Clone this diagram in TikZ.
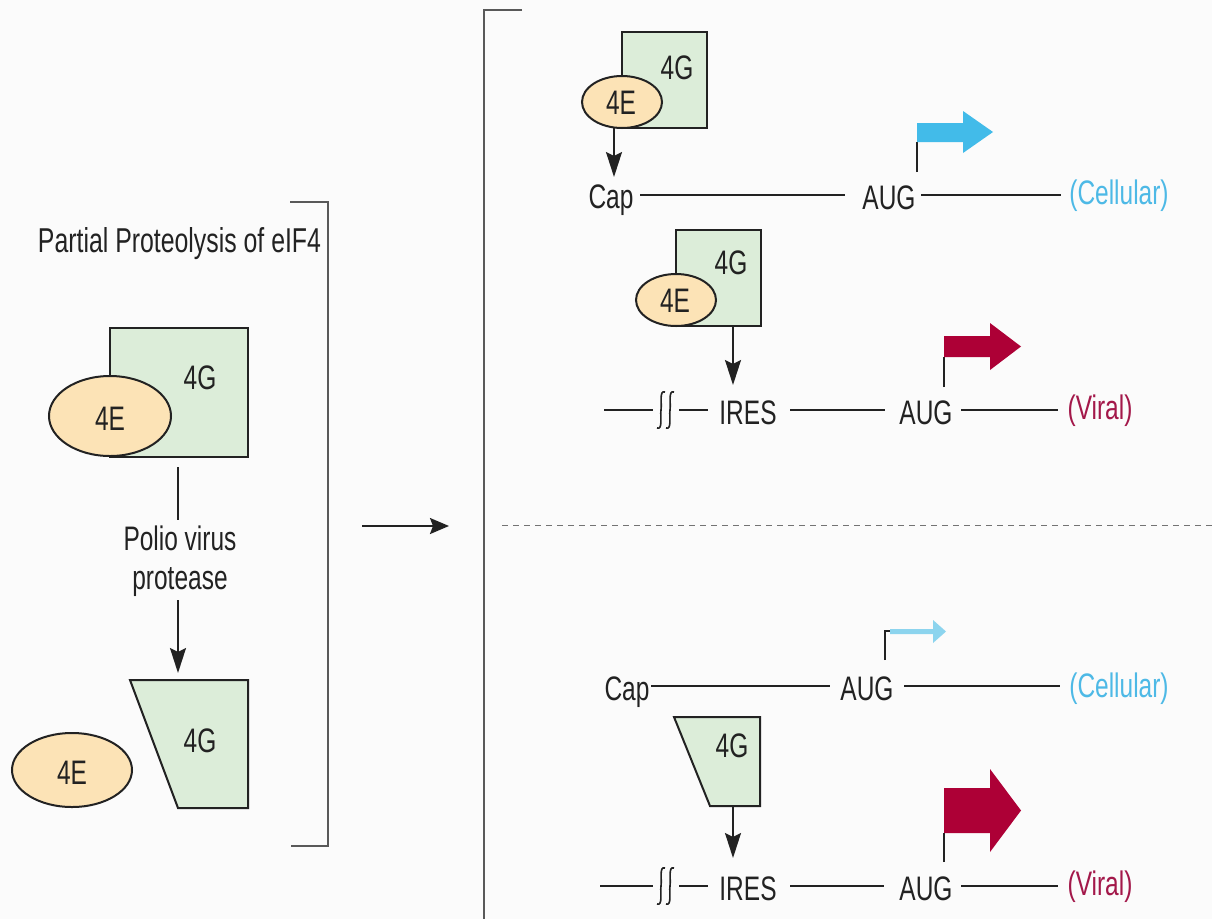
\documentclass[tikz,border=0pt]{standalone}
\usepackage{fontspec}
\setmainfont[FakeStretch=0.72]{Liberation Sans}
\usetikzlibrary{shapes.geometric,arrows.meta}
\definecolor{gfill}{HTML}{DCEDD9}
\definecolor{efill}{HTML}{FCE3B6}
\definecolor{cyanA}{HTML}{42BBE9}
\definecolor{lblue}{HTML}{8CD4EE}
\definecolor{crim}{HTML}{AD0036}
\definecolor{viraltxt}{HTML}{A3184A}
\definecolor{celltxt}{HTML}{4DB9E6}
\definecolor{bg}{HTML}{FBFBFB}
\definecolor{ink}{HTML}{222222}
\begin{document}
\begin{tikzpicture}[x=1pt,y=-1pt,
  lab/.style={font=\fontsize{34}{38}\selectfont, inner sep=0pt, text=ink, anchor=base},
  gbox/.style={draw=ink, line width=2pt, fill=gfill, inner sep=0pt},
  ebox/.style={ellipse, draw=ink, line width=2pt, fill=efill, inner sep=0pt},
  rna/.style={line width=2pt, ink},
  plain/.style={line width=2pt, ink},
  blk/.style={line width=2pt, ink, -{Stealth[length=25pt,width=16pt,inset=4pt]}},
  brk/.style={line width=2pt, black!65},
  squig/.style={line width=1.6pt, ink},
  cell/.style={lab, text=celltxt},
  viral/.style={lab, text=viraltxt},
  pics/brkmark/.style={code={
    \draw[squig] (4,-18) .. controls (-2,-20) and (1,-7) .. (0,0) .. controls (-1,7) and (2,20) .. (-4,18);
  }}
]
\fill[bg] (0,0) rectangle (1212,919);
\useasboundingbox (0,0) rectangle (1212,919);

% ---------------- left panel ----------------
\node[lab, font=\fontsize{34.5}{38}\selectfont] (title) at (179.5,252) {Partial Proteolysis of eIF4};
\draw[brk] (290,202) -- (328,202) -- (328,846) -- (291,846);

\node[gbox, minimum width=138pt, minimum height=129pt] (g1) at (179,392.5) {};
\node[ebox, minimum width=122pt, minimum height=80pt] (e1) at (110,416) {};
\node[lab] (g1t) at (200,389) {4G};
\node[lab] (e1t) at (110,430) {4E};

\node[lab] (pol1) at (180,550) {Polio virus};
\node[lab] (pol2) at (180,589) {protease};
\coordinate (pa) at (178,467);
\coordinate (pb) at (178,520);
\draw[plain] (pa) -- (pb);

\draw[gbox] (130,680) coordinate (t1a) -- (248,680) -- (248,808) -- (178,808) -- cycle;
\node[lab] (g2t) at (200,752) {4G};
\node[ebox, minimum width=120pt, minimum height=74pt] (e2) at (72,770) {};
\node[lab] (e2t) at (72,784) {4E};
\coordinate (pc) at (178,600);
\coordinate (pd) at (178,673);
\draw[blk] (pc) -- (pd);

% middle arrow
\coordinate (ma) at (362,526);
\coordinate (mb) at (449,526);
\draw[line width=2pt, ink, -{Stealth[length=19pt,width=16pt,inset=3pt]}] (ma) -- (mb);

% right bracket and dashed separator
\draw[brk] (522,10) -- (484,10) -- (484,919);
\draw[line width=1pt, black!55, dash pattern=on 6pt off 5pt] (502,525) -- (1212,525);

% ---------------- row 1 (cellular, normal) ----------------
\node[gbox, minimum width=85pt, minimum height=96pt] (g3) at (664.5,80) {};
\node[ebox, minimum width=80pt, minimum height=52pt] (e3) at (622,102) {};
\node[lab] (g3t) at (677,79) {4G};
\node[lab] (e3t) at (621,114) {4E};
\node[lab] (cap1) at (611,208) {Cap};
\node[lab] (aug1) at (889,209) {AUG};
\node[cell] (cel1) at (1119,204) {(Cellular)};
\coordinate (r1a) at (614,128);
\coordinate (r1b) at (614,177);
\draw[blk] (r1a) -- (r1b);
\draw[rna] (640,195) -- (845,195);
\draw[rna] (921,195) -- (1061,195);
\draw[plain] (917,172) -- (917,142);
\fill[cyanA] (917,123) -- (963,123) -- (963,111) -- (993,132) -- (963,153) -- (963,142) -- (917,142) -- cycle;

% ---------------- row 2 (viral, normal) ----------------
\node[gbox, minimum width=85pt, minimum height=96pt] (g4) at (718.5,278) {};
\node[ebox, minimum width=80pt, minimum height=52pt] (e4) at (676,300) {};
\node[lab] (g4t) at (731,274) {4G};
\node[lab] (e4t) at (675,312) {4E};
\node[lab] (ires1) at (748,424) {IRES};
\node[lab] (aug2) at (926,424) {AUG};
\node[viral] (vir1) at (1100,419) {(Viral)};
\coordinate (r2a) at (733,326);
\coordinate (r2b) at (733,385);
\draw[blk] (r2a) -- (r2b);
\draw[rna] (604,410) -- (653,410);
\pic at (661,410) {brkmark};
\pic at (670,410) {brkmark};
\draw[rna] (679,410) -- (708,410);
\draw[rna] (790,410) -- (885,410);
\draw[rna] (961,410) -- (1058,410);
\draw[plain] (944,387) -- (944,357);
\fill[crim] (944,336) -- (990,336) -- (990,323) -- (1021,346.5) -- (990,370) -- (990,357) -- (944,357) -- cycle;

% ---------------- row 3 (cellular, infected) ----------------
\node[lab] (cap2) at (627,700) {Cap};
\node[lab] (aug3) at (867,700) {AUG};
\node[cell] (cel2) at (1119,697) {(Cellular)};
\draw[rna] (651,686) -- (830,686);
\draw[rna] (904,686) -- (1060,686);
\draw[plain] (885,660) -- (885,631) -- (890,631);
\fill[lblue] (890,629) -- (933,629) -- (933,620) -- (946,631.5) -- (933,643) -- (933,634) -- (890,634) -- cycle;

% ---------------- row 4 (viral, infected) ----------------
\draw[gbox] (674,717) -- (760,717) -- (760,806) -- (710,806) -- cycle;
\node[lab] (g5t) at (732,757) {4G};
\node[lab] (ires2) at (748,900) {IRES};
\node[lab] (aug4) at (926,900) {AUG};
\node[viral] (vir2) at (1100,895) {(Viral)};
\coordinate (r4a) at (733,806);
\coordinate (r4b) at (733,858);
\draw[blk] (r4a) -- (r4b);
\draw[rna] (600,886) -- (653,886);
\pic at (661,886) {brkmark};
\pic at (670,886) {brkmark};
\draw[rna] (679,886) -- (708,886);
\draw[rna] (790,886) -- (884,886);
\draw[rna] (961,886) -- (1058,886);
\draw[plain] (944,862) -- (944,833);
\fill[crim] (944,788) -- (990,788) -- (990,769) -- (1021,810.5) -- (990,852) -- (990,833) -- (944,833) -- cycle;
\end{tikzpicture}
\end{document}
